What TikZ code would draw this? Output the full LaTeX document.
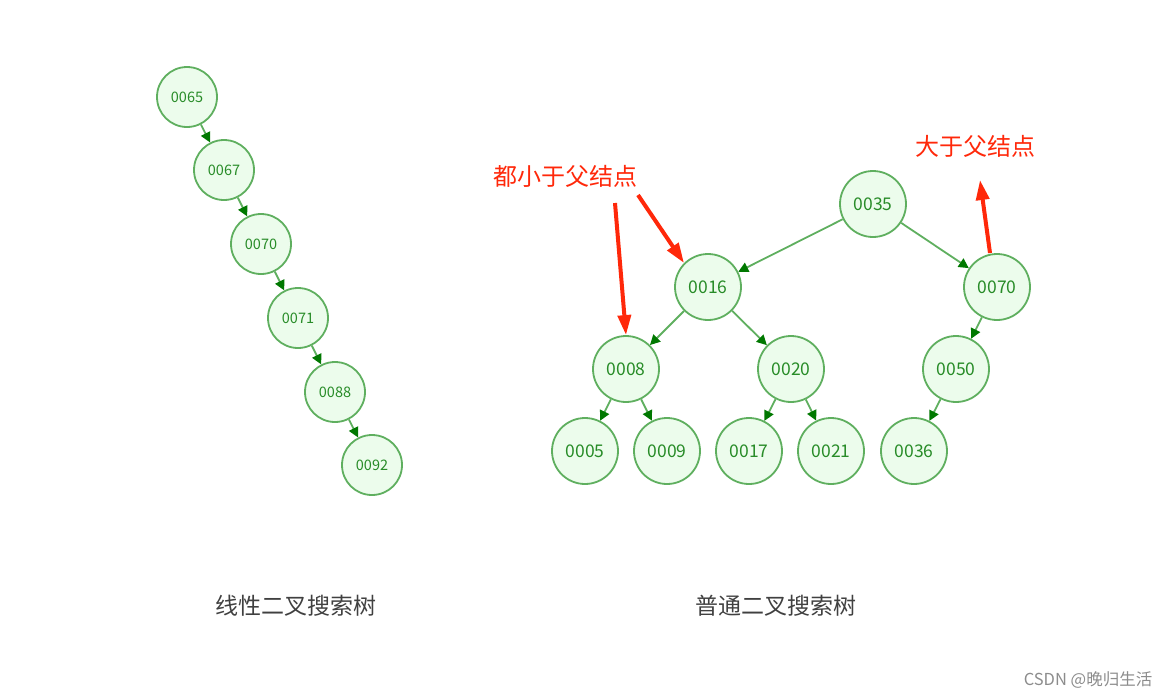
\documentclass[tikz,border=0pt]{standalone}
\usepackage{fontspec}
\usepackage{xcolor}
\usetikzlibrary{arrows.meta,positioning}
\newfontfamily\cjk{Noto Sans CJK SC}
\definecolor{bstline}{RGB}{95,175,95}
\definecolor{bstfill}{RGB}{236,252,236}
\definecolor{bsttext}{RGB}{40,140,40}
\definecolor{bsthead}{RGB}{0,120,0}
\definecolor{notered}{RGB}{255,40,10}
\tikzset{
  small/.style={circle, draw=bstline, fill=bstfill, line width=1.8pt,
                minimum size=60pt, inner sep=0pt, text=bsttext,
                font=\cjk\fontsize{14.5}{16}\selectfont},
  big/.style={circle, draw=bstline, fill=bstfill, line width=1.8pt,
              minimum size=66pt, inner sep=0pt, text=bsttext,
              font=\cjk\fontsize{17.5}{20}\selectfont},
  link/.style={-{Triangle[length=10pt,width=10pt,color=bsthead]},
               line width=1.8pt, draw=bstline},
  hint/.style={-{Triangle[length=20pt,width=13pt]}, line width=4pt,
               draw=notered},
  note/.style={text=notered, font=\cjk\fontsize{24}{28}\selectfont},
  caption/.style={text=black!75, font=\cjk\fontsize{23}{27}\selectfont}
}
\begin{document}
\begin{tikzpicture}[x=1pt,y=-1pt]
\useasboundingbox (0,0) rectangle (1171,697);
% linear tree
\node[small] (a65) at (187,97) {0065};
\node[small] (a67) at (224,170) {0067};
\node[small] (a70) at (261,244) {0070};
\node[small] (a71) at (298,318) {0071};
\node[small] (a88) at (335,392) {0088};
\node[small] (a92) at (372,465) {0092};
\draw[link] (a65) -- (a67);
\draw[link] (a67) -- (a70);
\draw[link] (a70) -- (a71);
\draw[link] (a71) -- (a88);
\draw[link] (a88) -- (a92);
% ordinary tree
\node[big] (b35) at (873,204) {0035};
\node[big] (b16) at (708,287) {0016};
\node[big] (b70) at (997,287) {0070};
\node[big] (b08) at (626,369) {0008};
\node[big] (b20) at (791,369) {0020};
\node[big] (b50) at (956,369) {0050};
\node[big] (b05) at (585,451) {0005};
\node[big] (b09) at (667,451) {0009};
\node[big] (b17) at (749,451) {0017};
\node[big] (b21) at (831,451) {0021};
\node[big] (b36) at (914,451) {0036};
\draw[link] (b35) -- (b16);
\draw[link] (b35) -- (b70);
\draw[link] (b16) -- (b08);
\draw[link] (b16) -- (b20);
\draw[link] (b70) -- (b50);
\draw[link] (b08) -- (b05);
\draw[link] (b08) -- (b09);
\draw[link] (b20) -- (b17);
\draw[link] (b20) -- (b21);
\draw[link] (b50) -- (b36);
% notes
\node[note] (less) at (565,176) {都小于父结点};
\node[note] (more) at (975,146) {大于父结点};
\coordinate (l1) at (615,203);
\coordinate (l2) at (638,195);
\coordinate (m1) at (990,253);
\coordinate (m2) at (980,180);
\draw[hint] (l1) -- (b08.north);
\draw[hint] (l2) -- (b16.north west);
\draw[hint] (m1) -- (m2);
% captions
\node[caption] (cap1) at (296,606) {线性二叉搜索树};
\node[caption] (cap2) at (776,606) {普通二叉搜索树};
\node[text=black!45, font=\cjk\fontsize{16.5}{19}\selectfont] (mark) at (1088,680) {CSDN @晚归生活};
\end{tikzpicture}
\end{document}
